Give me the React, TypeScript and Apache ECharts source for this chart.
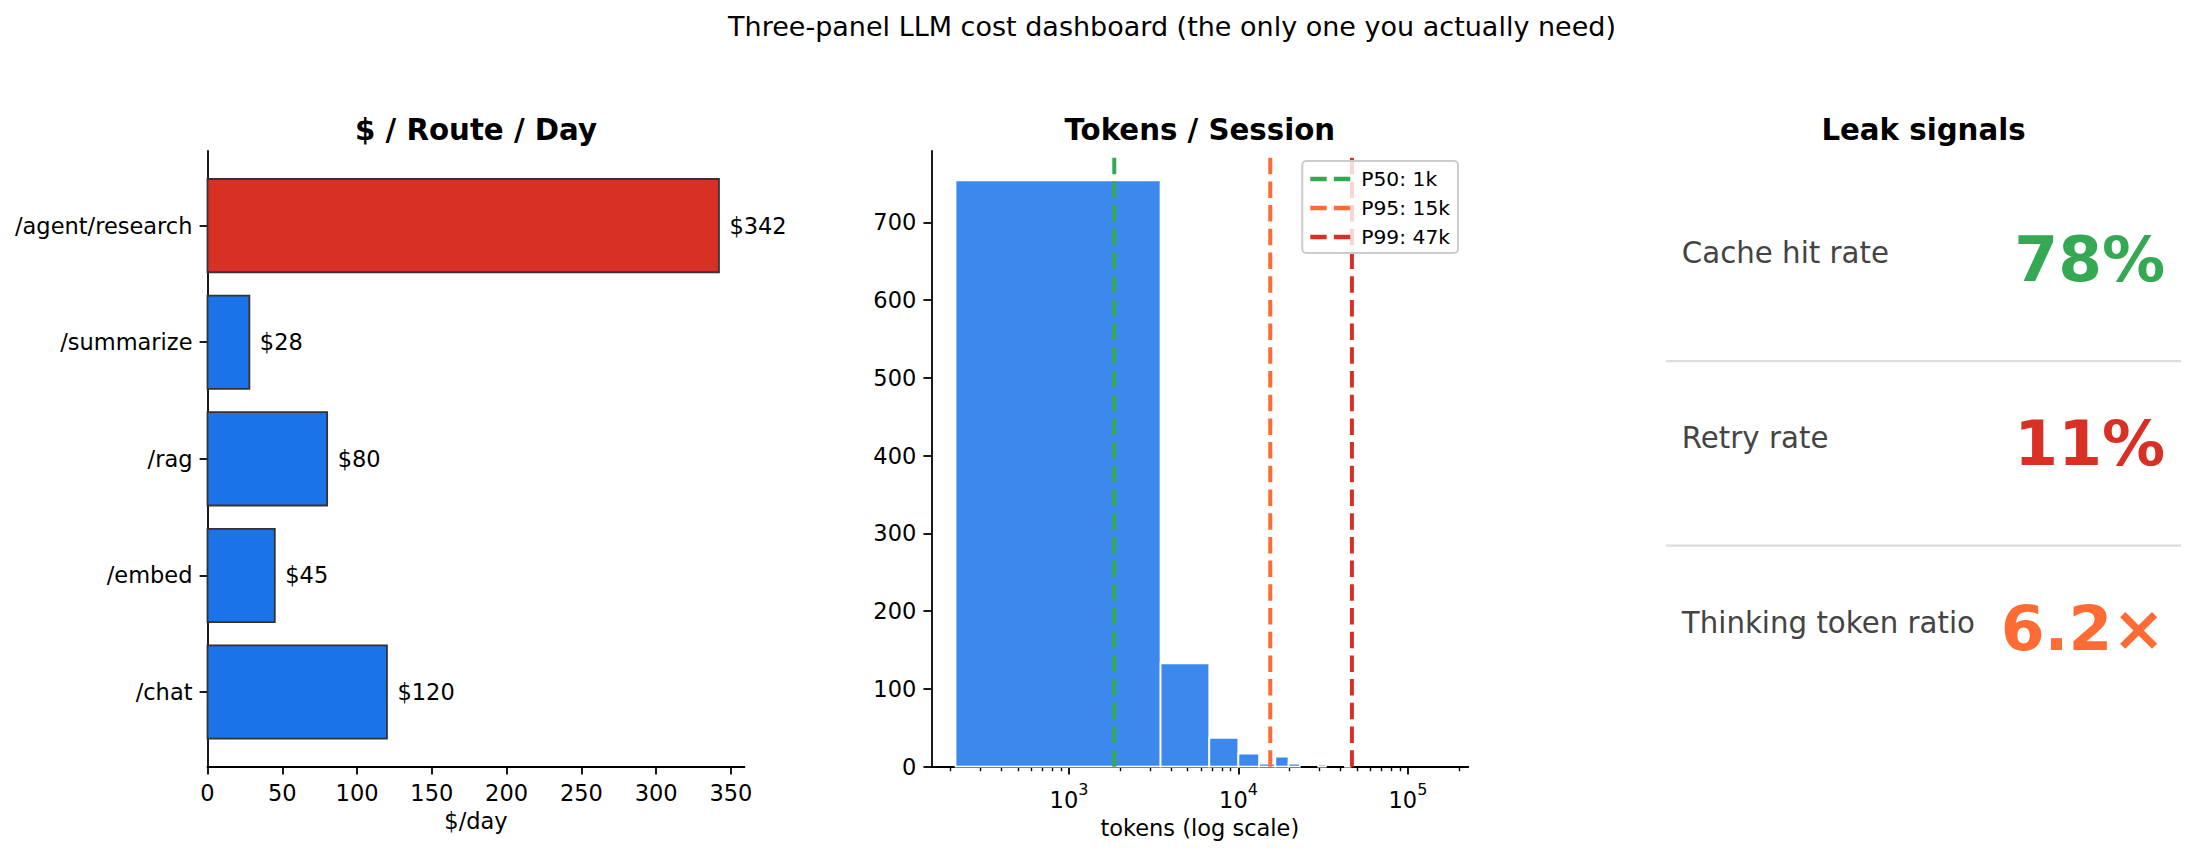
import React, { useEffect, useRef } from 'react';
import * as echarts from 'echarts';

// panel 1: spend per route
const routes = ['/chat', '/embed', '/rag', '/summarize', '/agent/research'];
const routeCost = [120, 45, 80, 28, 342];
const costTicks = [0, 50, 100, 150, 200, 250, 300, 350];

// panel 2: tokens per session histogram (non-empty bins only)
const binLow = [214, 3470, 6726, 9982, 13238, 16494, 19750, 29518, 42542];
const binHigh = [3470, 6726, 9982, 13238, 16494, 19750, 23006, 32774, 45798];
const binCount = [754, 133, 37, 17, 4, 13, 4, 3, 2];
const tokenTicks = [1000, 10000, 100000];
const tokenTickExp = ['3', '4', '5'];
const tokenMinorTicks = [
  200, 300, 400, 500, 600, 700, 800, 900,
  2000, 3000, 4000, 5000, 6000, 7000, 8000, 9000,
  20000, 30000, 40000, 50000, 60000, 70000, 80000, 90000,
  200000,
];
const countTicks = [0, 100, 200, 300, 400, 500, 600, 700];
const pctLabels = ['P50: 1k', 'P95: 15k', 'P99: 47k'];
const pctValues = [1850, 15400, 46700];

// panel 3: leak signals
const signalNames = ['Cache hit rate', 'Retry rate', 'Thinking token ratio'];
const signalValues = ['78%', '11%', '6.2×'];

const BLUE = '#1a73e8';
const RED = '#d93025';
const GREEN = '#34a853';
const ORANGE = '#ff6b35';
const pctColors = [GREEN, ORANGE, RED];
const signalColors = [GREEN, RED, ORANGE];

const FONT = 'DejaVu Sans';
const W = 2207;
const H = 853;
const TOP = 151;
const PH = 615.7;
const PW = 537;
const P1 = 207.5;
const P2 = 931.3;
const P3 = 1655;

const costMax = Math.max(...routeCost) * 1.05;
const countMax = Math.max(...binCount) * 1.05;

// two dashes, like a matplotlib legend handle for '--'
const DASH_ICON = 'path://M0,0H16.5V4.4H0Z M23.7,0H40.2V4.4H23.7Z';

const tickFont = { fontSize: 22.5, color: '#000', fontFamily: FONT };
const spine = { show: true, onZero: false, lineStyle: { color: '#000', width: 1.8 } };

const App: React.FC = () => {
  const chartRef = useRef<HTMLDivElement>(null);

  useEffect(() => {
    if (!chartRef.current) return;
    const chart = echarts.init(chartRef.current, null, { renderer: 'svg' });

    const graphic: any[] = [
      {
        type: 'text', x: 1172, y: 26,
        style: { text: 'Three-panel LLM cost dashboard (the only one you actually need)', font: `27px "${FONT}"`, fill: '#000', align: 'center', verticalAlign: 'middle' },
      },
    ];
    const titles = ['$ / Route / Day', 'Tokens / Session', 'Leak signals'];
    [P1, P2, P3].forEach((left, i) => {
      graphic.push({
        type: 'text', x: left + PW / 2, y: 130,
        style: { text: titles[i], font: `bold 29.25px "${FONT}"`, fill: '#000', align: 'center', verticalAlign: 'middle' },
      });
    });
    // leak signal rows
    signalNames.forEach((name, i) => {
      const rowY = 263.3 + i * 184.7; // label baseline
      graphic.push({
        type: 'text', x: P3 + PW * 0.05, y: rowY - 10.1,
        style: { text: name, font: `29.25px "${FONT}"`, fill: '#444444', align: 'left', verticalAlign: 'middle' },
      });
      graphic.push({
        type: 'text', x: P3 + PW * 0.95, y: rowY + 17.7 - 21.8,
        style: { text: signalValues[i], font: `bold 63px "${FONT}"`, fill: signalColors[i], align: 'right', verticalAlign: 'middle' },
      });
      if (i < signalNames.length - 1) {
        graphic.push({
          type: 'line',
          shape: { x1: P3 + PW * 0.02, y1: 361 + i * 184.7, x2: P3 + PW * 0.98, y2: 361 + i * 184.7 },
          style: { stroke: '#dddddd', lineWidth: 2.25 },
        });
      }
    });

    const option: echarts.EChartsOption = {
      animation: false,
      backgroundColor: '#fff',
      textStyle: { fontFamily: FONT },
      grid: [
        { left: P1, top: TOP, width: PW, height: PH, outerBoundsMode: 'none' } as any,
        { left: P2, top: TOP, width: PW, height: PH, outerBoundsMode: 'none' } as any,
      ],
      xAxis: [
        {
          type: 'value', gridIndex: 0, min: 0, max: costMax, position: 'bottom',
          axisLine: spine,
          axisTick: { show: true, length: 7.9, lineStyle: { color: '#000', width: 1.8 }, customValues: costTicks } as any,
          axisLabel: { ...tickFont, margin: 15, customValues: costTicks } as any,
          splitLine: { show: false },
          name: '$/day', nameLocation: 'middle', nameGap: 42.5,
          nameTextStyle: { ...tickFont },
        },
        {
          type: 'log', gridIndex: 1, min: 154, max: 227000, position: 'bottom',
          axisLine: spine,
          axisTick: { show: true, length: 7.9, lineStyle: { color: '#000', width: 1.8 }, customValues: tokenTicks } as any,
          axisLabel: {
            ...tickFont, margin: 15, customValues: tokenTicks,
            formatter: (v: number) => `{b|10}{s|${tokenTickExp[tokenTicks.indexOf(v)] ?? ''}}`,
            rich: {
              b: { fontSize: 22.5, lineHeight: 30, color: '#000', fontFamily: FONT, verticalAlign: 'bottom' },
              s: { fontSize: 16, lineHeight: 16, color: '#000', fontFamily: FONT, verticalAlign: 'top' },
            },
          } as any,
          splitLine: { show: false },
          name: 'tokens (log scale)', nameLocation: 'middle', nameGap: 48.7,
          nameTextStyle: { ...tickFont },
        },
        {
          type: 'log', gridIndex: 1, min: 154, max: 227000, position: 'bottom',
          axisLine: { show: false, onZero: false },
          axisTick: { show: true, length: 4.5, lineStyle: { color: '#000', width: 1.4 }, customValues: tokenMinorTicks } as any,
          axisLabel: { show: false },
          splitLine: { show: false },
        },
      ],
      yAxis: [
        {
          type: 'value', gridIndex: 0, min: -0.64, max: 4.64,
          axisLine: spine,
          axisTick: { show: true, length: 7.9, lineStyle: { color: '#000', width: 1.8 }, customValues: [0, 1, 2, 3, 4] } as any,
          axisLabel: { ...tickFont, margin: 15, customValues: [0, 1, 2, 3, 4], formatter: (v: number) => routes[Math.round(v)] ?? '' } as any,
          splitLine: { show: false },
        },
        {
          type: 'value', gridIndex: 1, min: 0, max: countMax,
          axisLine: spine,
          axisTick: { show: true, length: 7.9, lineStyle: { color: '#000', width: 1.8 }, customValues: countTicks } as any,
          axisLabel: { ...tickFont, margin: 15, customValues: countTicks } as any,
          splitLine: { show: false },
        },
      ],
      legend: {
        data: pctLabels.map((name) => ({ name, icon: DASH_ICON })),
        orient: 'vertical',
        right: W - 1458,
        top: 161,
        padding: [8, 8, 6, 8],
        itemGap: 9,
        itemWidth: 40,
        itemHeight: 20,
        backgroundColor: 'rgba(255,255,255,0.8)',
        borderColor: '#cccccc',
        borderWidth: 2,
        borderRadius: 4,
        selectedMode: false,
        textStyle: { fontSize: 20.25, color: '#000', fontFamily: FONT, padding: [0, 0, 0, 6] },
      },
      series: [
        {
          type: 'custom',
          xAxisIndex: 0,
          yAxisIndex: 0,
          data: routeCost.map((v, i) => [v, i]),
          renderItem: (params: any, api: any) => {
            const v = api.value(0);
            const i = api.value(1);
            const a = api.coord([0, i + 0.4]);
            const b = api.coord([v, i - 0.4]);
            const c = api.coord([v, i]);
            return {
              type: 'group',
              children: [
                {
                  type: 'rect',
                  shape: { x: a[0], y: a[1], width: b[0] - a[0], height: b[1] - a[1] },
                  style: { fill: v === Math.max(...routeCost) ? RED : BLUE, stroke: '#333333', lineWidth: 1.8 },
                },
                {
                  type: 'text', x: c[0] + 10.5, y: c[1],
                  style: { text: `$${v}`, font: `22.5px "${FONT}"`, fill: '#000', align: 'left', verticalAlign: 'middle' },
                },
              ],
            };
          },
        } as any,
        {
          type: 'custom',
          xAxisIndex: 1,
          yAxisIndex: 1,
          dimensions: ['lo', 'hi', 'n'],
          encode: { x: [0, 1], y: 2 },
          data: binCount.map((n, i) => [binLow[i], binHigh[i], n]),
          renderItem: (params: any, api: any) => {
            const a = api.coord([api.value(0), api.value(2)]);
            const b = api.coord([api.value(1), 0]);
            return {
              type: 'rect',
              shape: { x: a[0], y: a[1], width: b[0] - a[0], height: b[1] - a[1] },
              style: { fill: '#3c88ec', stroke: '#ffffff', lineWidth: 1.8 },
            };
          },
        } as any,
        ...pctLabels.map((name, i) => ({
          type: 'line' as const,
          name,
          xAxisIndex: 1,
          yAxisIndex: 1,
          data: [[pctValues[i], 0], [pctValues[i], countMax]],
          symbol: 'none',
          silent: true,
          z: 3,
          lineStyle: { color: pctColors[i], width: 4, type: [16.5, 7.2] },
          itemStyle: { color: pctColors[i] },
        })),
      ],
      graphic: { elements: graphic },
    };

    chart.setOption(option);
    return () => {
      chart.dispose();
    };
  }, []);

  return (
    <div
      ref={chartRef}
      style={{ position: 'absolute', left: 0, top: 0, width: `${W}px`, height: `${H}px` }}
    />
  );
};

export default App;
